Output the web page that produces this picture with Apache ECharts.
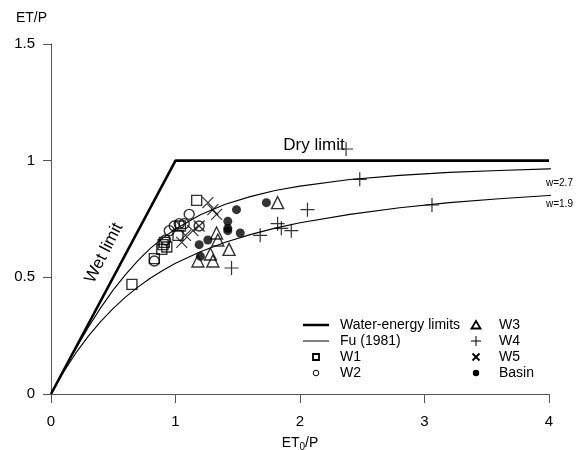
<!DOCTYPE html>
<html>
<head>
<meta charset="utf-8">
<script src="https://cdn.jsdelivr.net/npm/echarts@6/dist/echarts.min.js"></script>
<style>
html,body{margin:0;padding:0;background:#fff;}
#chart{width:588px;height:450px;}
</style>
</head>
<body>
<div id="chart"></div>
<script>
// ---- data ----
const xTicks = [0, 1, 2, 3, 4];
const yTicks = [0, 0.5, 1, 1.5];

// water-energy limits (wet limit then dry limit)
const limitX = [0, 1, 4];
const limitY = [0, 1, 1];

// Fu (1981) curves
const fuX   = [0, 0.1, 0.2, 0.3, 0.4, 0.5, 0.6, 0.7, 0.8, 0.9, 1.0, 1.2, 1.4, 1.6, 1.8, 2.0, 2.4, 2.8, 3.2, 3.6, 4.0, 4.15];
const fuW27 = [0, 0.099, 0.195, 0.286, 0.370, 0.446, 0.513, 0.573, 0.625, 0.669, 0.707, 0.768, 0.813, 0.846, 0.872, 0.891, 0.919, 0.937, 0.950, 0.958, 0.965, 0.967];
const fuW19 = [0, 0.093, 0.176, 0.248, 0.311, 0.367, 0.416, 0.459, 0.497, 0.530, 0.560, 0.610, 0.650, 0.683, 0.711, 0.734, 0.770, 0.798, 0.820, 0.837, 0.851, 0.856];

// observations [ET0/P, ET/P]
const w1 = [[0.65,0.47],[0.83,0.58],[0.89,0.62],[0.90,0.64],[0.91,0.65],[0.93,0.63],[1.02,0.68],[1.04,0.72],[1.17,0.83]];
const w2 = [[0.83,0.57],[0.92,0.66],[0.95,0.70],[0.99,0.72],[1.03,0.73],[1.07,0.73],[1.11,0.77],[1.19,0.72]];
const w3 = [[1.18,0.57],[1.28,0.60],[1.30,0.57],[1.33,0.69],[1.34,0.66],[1.43,0.62],[1.82,0.82]];
const w4 = [[1.45,0.54],[1.68,0.68],[1.82,0.73],[1.85,0.71],[1.93,0.70],[2.06,0.79],[2.37,1.05],[2.48,0.92],[3.06,0.81]];
const w5 = [[1.05,0.65],[1.08,0.68],[1.14,0.70],[1.19,0.72],[1.26,0.82],[1.30,0.79],[1.33,0.77]];
const basin = [[1.19,0.64],[1.26,0.66],[1.20,0.59],[1.42,0.74],[1.42,0.71],[1.42,0.70],[1.49,0.79],[1.52,0.69],[1.73,0.82]];

const wLabels = ['w=2.7', 'w=1.9'];
const legendLeft = ['Water-energy limits', 'Fu (1981)', 'W1', 'W2'];
const legendRight = ['W3', 'W4', 'W5', 'Basin'];

// ---- chart ----
const FONT = '"Liberation Sans", Arial, sans-serif';
const zip = (xs, ys) => xs.map((x, i) => [x, ys[i]]);
const chart = echarts.init(document.getElementById('chart'), null, {renderer: 'canvas'});

const openStyle = {color: 'rgba(0,0,0,0)', borderColor: '#000', borderWidth: 1.4};
const plusPath = 'path://M5,0L5,10M0,5L10,5';
const crossPath = 'path://M0,0L10,10M10,0L0,10';

function scatter(name, data, symbol, size, style) {
  return {name, type: 'scatter', data, symbol, symbolSize: size, itemStyle: style, z: 5, silent: true};
}

// legend drawing
const lg = [];
const rowsY = [325, 341, 357, 373];
const c1 = 316, c2 = 476;
lg.push({type: 'line', shape: {x1: 303, y1: rowsY[0], x2: 329, y2: rowsY[0]}, style: {stroke: '#000', lineWidth: 2.5}});
lg.push({type: 'line', shape: {x1: 303, y1: rowsY[1], x2: 329, y2: rowsY[1]}, style: {stroke: '#000', lineWidth: 1}});
lg.push({type: 'rect', shape: {x: c1 - 3, y: rowsY[2] - 3, width: 6, height: 6}, style: {fill: 'none', stroke: '#000', lineWidth: 1.8}});
lg.push({type: 'circle', shape: {cx: c1, cy: rowsY[3], r: 2.8}, style: {fill: 'none', stroke: '#000', lineWidth: 1}});
lg.push({type: 'polygon', shape: {points: [[c2, rowsY[0] - 4], [c2 + 4.5, rowsY[0] + 3.5], [c2 - 4.5, rowsY[0] + 3.5]]}, style: {fill: 'none', stroke: '#000', lineWidth: 1.8}});
lg.push({type: 'line', shape: {x1: c2 - 5, y1: rowsY[1], x2: c2 + 5, y2: rowsY[1]}, style: {stroke: '#000', lineWidth: 1}});
lg.push({type: 'line', shape: {x1: c2, y1: rowsY[1] - 5, x2: c2, y2: rowsY[1] + 5}, style: {stroke: '#000', lineWidth: 1}});
lg.push({type: 'line', shape: {x1: c2 - 3.5, y1: rowsY[2] - 3.5, x2: c2 + 3.5, y2: rowsY[2] + 3.5}, style: {stroke: '#000', lineWidth: 1.8}});
lg.push({type: 'line', shape: {x1: c2 + 3.5, y1: rowsY[2] - 3.5, x2: c2 - 3.5, y2: rowsY[2] + 3.5}, style: {stroke: '#000', lineWidth: 1.8}});
lg.push({type: 'circle', shape: {cx: c2, cy: rowsY[3], r: 3.2}, style: {fill: '#000'}});
legendLeft.forEach((t, i) => lg.push({type: 'text', x: 340, y: rowsY[i], style: {text: t, font: '14px ' + FONT, fill: '#000', verticalAlign: 'middle'}}));
legendRight.forEach((t, i) => lg.push({type: 'text', x: 499, y: rowsY[i], style: {text: t, font: '14px ' + FONT, fill: '#000', verticalAlign: 'middle'}}));

// annotations
lg.push({type: 'text', x: 314, y: 145, style: {text: 'Dry limit', font: '17px ' + FONT, fill: '#000', align: 'center', verticalAlign: 'middle'}});
lg.push({type: 'text', x: 104, y: 253, rotation: 63 * Math.PI / 180, style: {text: 'Wet limit', font: '17px ' + FONT, fill: '#000', align: 'center', verticalAlign: 'middle'}});

const option = {
  animation: false,
  backgroundColor: '#fff',
  textStyle: {fontFamily: FONT},
  grid: {left: 51, right: 39, top: 44, bottom: 56, containLabel: false, outerBoundsMode: 'none'},
  xAxis: {
    type: 'value', min: xTicks[0], max: xTicks[xTicks.length - 1], interval: 1,
    axisLine: {show: true, onZero: false, lineStyle: {color: '#555', width: 1}},
    axisTick: {show: true, length: 9, lineStyle: {color: '#555'}},
    axisLabel: {fontSize: 15, color: '#000', margin: 20, fontFamily: FONT},
    splitLine: {show: false},
    name: '{a|ET}{s|0}{a|/P}', nameLocation: 'middle', nameGap: 40,
    nameTextStyle: {rich: {a: {fontSize: 14, color: '#000', fontFamily: FONT}, s: {fontSize: 10, color: '#000', fontFamily: FONT, padding: [8, 0, 0, 0]}}}
  },
  yAxis: {
    type: 'value', min: yTicks[0], max: yTicks[yTicks.length - 1], interval: 0.5,
    axisLine: {show: true, onZero: false, lineStyle: {color: '#555', width: 1}},
    axisTick: {show: true, length: 8, lineStyle: {color: '#555'}},
    axisLabel: {fontSize: 15, color: '#000', margin: 16, fontFamily: FONT},
    splitLine: {show: false},
    name: 'ET/P', nameLocation: 'end', nameGap: 19,
    nameTextStyle: {fontSize: 14, color: '#000', align: 'right', padding: [0, 4, 0, 0], fontFamily: FONT}
  },
  series: [
    {name: 'Water-energy limits', type: 'line', data: zip(limitX, limitY), symbol: 'none',
     lineStyle: {color: '#000', width: 2.6}, z: 3, silent: true},
    {name: 'Fu w27', type: 'line', data: zip(fuX, fuW27), symbol: 'none', smooth: false, clip: false,
     lineStyle: {color: '#000', width: 1.1}, z: 3, silent: true,
     endLabel: {show: true, formatter: wLabels[0], fontSize: 10, color: '#000', offset: [-13, 14], fontFamily: FONT}},
    {name: 'Fu w19', type: 'line', data: zip(fuX, fuW19), symbol: 'none', smooth: false, clip: false,
     lineStyle: {color: '#000', width: 1.1}, z: 3, silent: true,
     endLabel: {show: true, formatter: wLabels[1], fontSize: 10, color: '#000', offset: [-13, 9], fontFamily: FONT}},
    scatter('W1', w1, 'rect', 10, openStyle),
    scatter('W2', w2, 'circle', 10, openStyle),
    scatter('W3', w3, 'triangle', 12, {color: 'rgba(0,0,0,0)', borderColor: '#000', borderWidth: 1.4}),
    scatter('W4', w4, plusPath, 14, {color: 'rgba(0,0,0,0)', borderColor: '#000', borderWidth: 1.2}),
    scatter('W5', w5, crossPath, 11, {color: 'rgba(0,0,0,0)', borderColor: '#000', borderWidth: 1.2}),
    scatter('Basin', basin, 'circle', 9, {color: '#000'})
  ],
  graphic: lg
};
chart.setOption(option);
</script>
</body>
</html>
